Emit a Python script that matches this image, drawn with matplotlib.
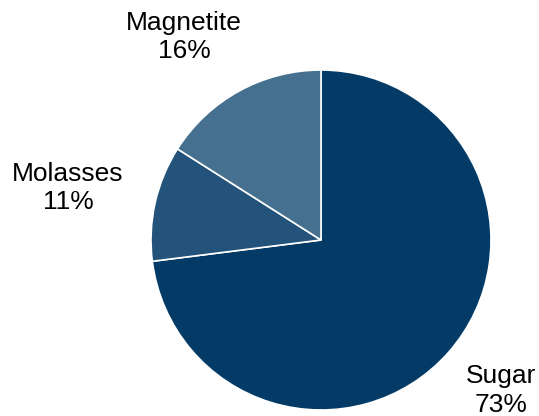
import numpy as np
import matplotlib
matplotlib.use("Agg")
import matplotlib.pyplot as plt

plt.rcParams['font.family'] = ['Liberation Sans', 'DejaVu Sans']

categories = ["Sugar", "Molasses", "Magnetite"]
shares = [73, 11, 16]
colors = ["#033a66", "#23537a", "#46708f"]
label_dist = [1.38, 1.52, 1.44]
label_shift = [1.4, 1.0, 5.2]  # degrees off the wedge middle

fig = plt.figure(figsize=(5.39, 4.16), dpi=100)
ax = fig.add_axes([0, 0, 1, 1])

wedges, _ = ax.pie(shares, colors=colors, startangle=90, counterclock=False,
                   wedgeprops={"edgecolor": "white", "linewidth": 1.2})

# labels centred outside each wedge
for w, name, val, d, s in zip(wedges, categories, shares, label_dist, label_shift):
    mid = np.deg2rad((w.theta1 + w.theta2) / 2 + s)
    ax.text(d * np.cos(mid), d * np.sin(mid), f"{name}\n{val}%",
            ha="center", va="center", fontsize=19, linespacing=1.25)

# pixel mapping: centre at (321, 240), radius 170 px
ax.set_xlim(-321 / 170, (539 - 321) / 170)
ax.set_ylim(-(416 - 240) / 170, 240 / 170)
ax.set_aspect("equal")
ax.axis("off")

fig.savefig("out.png", dpi=100)
